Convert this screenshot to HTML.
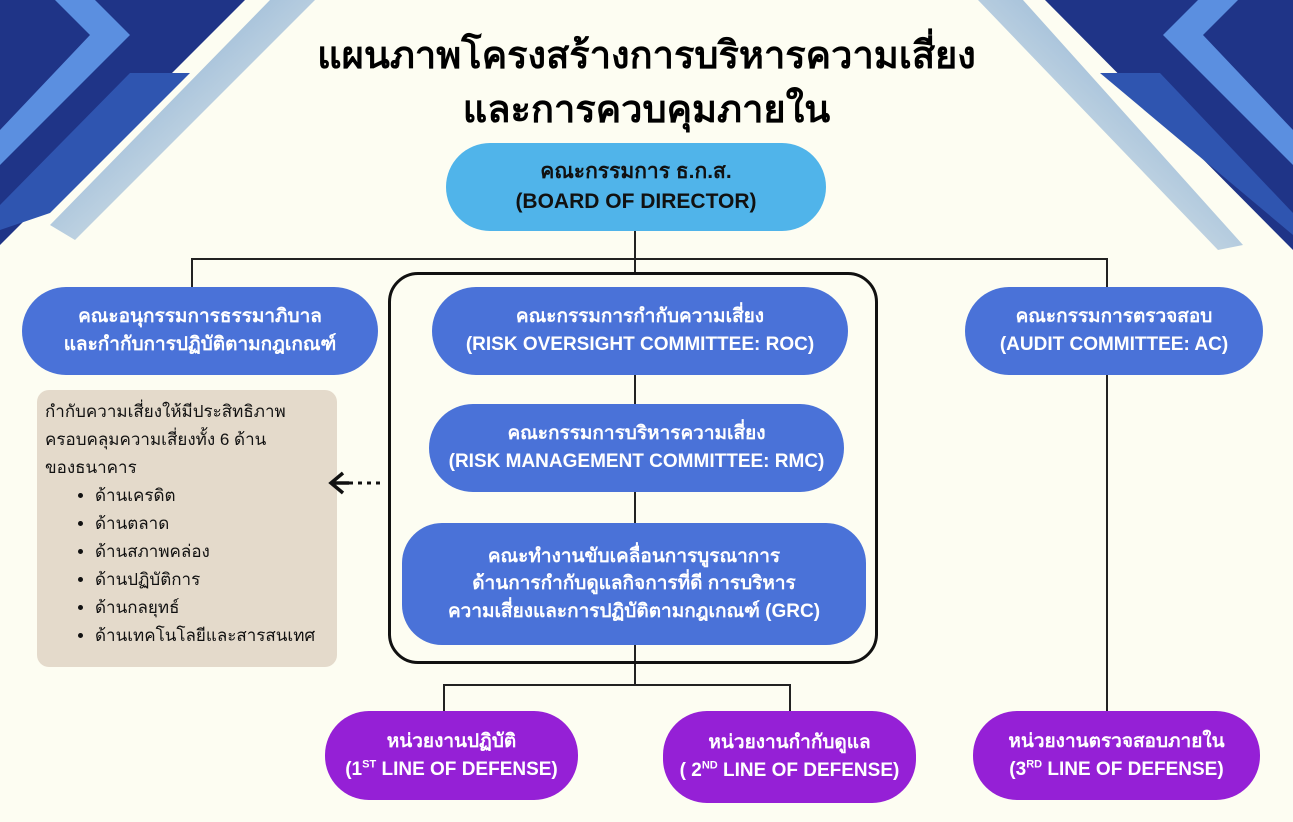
<!DOCTYPE html>
<html><head><meta charset="utf-8"><style>
*{margin:0;padding:0;box-sizing:border-box}
body{width:1293px;height:822px;overflow:hidden;background:#fdfdf2;position:relative;font-family:"Liberation Sans","Noto Sans CJK SC",sans-serif}
.t{position:absolute;left:0;width:1293px;text-align:center;font-weight:bold;font-size:38px;color:#000}
.b{position:absolute;display:flex;align-items:center;justify-content:center;text-align:center;font-weight:bold;border-radius:44px;line-height:1.45}
.blue{background:#4a72d8;color:#fff;font-size:19px}
.pur{background:#9520d6;color:#fff;font-size:19px}
.l{position:absolute;background:#222}
sup{font-size:11px}
</style></head><body>
<svg width="1293" height="822" style="position:absolute;left:0;top:0">
<defs><linearGradient id="f" x1="0" y1="0" x2="1" y2="1"><stop offset="0" stop-color="#6f9ccc"/><stop offset="1" stop-color="#fdfdf2"/></linearGradient>
<linearGradient id="g" x1="1" y1="0" x2="0" y2="1"><stop offset="0" stop-color="#6f9ccc"/><stop offset="1" stop-color="#fdfdf2"/></linearGradient></defs>
<polygon points="270,0,315,0,75,240,50,225" fill="url(#f)"/>
<polygon points="0,0,245,0,0,245" fill="#1f3487"/>
<polygon points="55,0,95,0,130,35,0,165,0,130,90,35" fill="#5b8fe0"/>
<polygon points="130,73,190,73,50,213,0,230,0,205" fill="#2f55b0"/>
<polygon points="978,0,1023,0,1243,245,1218,250" fill="url(#g)"/>
<polygon points="1045,0,1293,0,1293,250" fill="#1f3487"/>
<polygon points="1238,0,1198,0,1163,35,1293,165,1293,130,1203,35" fill="#5b8fe0"/>
<polygon points="1100,73,1160,73,1293,213,1293,235" fill="#2f55b0"/>
</svg>
<div class="t" style="top:24px">แผนภาพโครงสร้างการบริหารความเสี่ยง</div>
<div class="t" style="top:78px">และการควบคุมภายใน</div>
<div class="l" style="left:634px;top:231px;width:2px;height:41px"></div>
<div class="l" style="left:191px;top:258px;width:917px;height:2px"></div>
<div class="l" style="left:191px;top:258px;width:2px;height:30px"></div>
<div class="l" style="left:1106px;top:258px;width:2px;height:453px"></div>
<div class="l" style="left:634px;top:375px;width:2px;height:30px"></div>
<div class="l" style="left:634px;top:492px;width:2px;height:32px"></div>
<div class="l" style="left:634px;top:645px;width:2px;height:41px"></div>
<div class="l" style="left:443px;top:684px;width:348px;height:2px"></div>
<div class="l" style="left:443px;top:684px;width:2px;height:28px"></div>
<div class="l" style="left:789px;top:684px;width:2px;height:28px"></div>
<div style="position:absolute;left:388px;top:272px;width:490px;height:392px;border:3.5px solid #111;border-radius:30px"></div>
<div class="b" style="left:446px;top:143px;width:380px;height:88px;background:#50b4ea;color:#111;font-size:21px"><div>คณะกรรมการ ธ.ก.ส.<br>(BOARD OF DIRECTOR)</div></div>
<div class="b blue" style="left:22px;top:287px;width:356px;height:88px"><div>คณะอนุกรรมการธรรมาภิบาล<br>และกำกับการปฏิบัติตามกฎเกณฑ์</div></div>
<div class="b blue" style="left:432px;top:287px;width:416px;height:88px"><div>คณะกรรมการกำกับความเสี่ยง<br>(RISK OVERSIGHT COMMITTEE: ROC)</div></div>
<div class="b blue" style="left:965px;top:287px;width:298px;height:88px"><div>คณะกรรมการตรวจสอบ<br>(AUDIT COMMITTEE: AC)</div></div>
<div class="b blue" style="left:429px;top:404px;width:415px;height:88px"><div>คณะกรรมการบริหารความเสี่ยง<br>(RISK MANAGEMENT COMMITTEE: RMC)</div></div>
<div class="b blue" style="left:402px;top:523px;width:464px;height:122px;border-radius:40px"><div>คณะทำงานขับเคลื่อนการบูรณาการ<br>ด้านการกำกับดูแลกิจการที่ดี การบริหาร<br>ความเสี่ยงและการปฏิบัติตามกฎเกณฑ์ (GRC)</div></div>
<div class="b pur" style="left:325px;top:711px;width:253px;height:89px"><div>หน่วยงานปฏิบัติ<br>(1<sup>ST</sup> LINE OF DEFENSE)</div></div>
<div class="b pur" style="left:663px;top:711px;width:253px;height:92px"><div>หน่วยงานกำกับดูแล<br>( 2<sup>ND</sup> LINE OF DEFENSE)</div></div>
<div class="b pur" style="left:973px;top:711px;width:287px;height:89px"><div>หน่วยงานตรวจสอบภายใน<br>(3<sup>RD</sup> LINE OF DEFENSE)</div></div>
<div style="position:absolute;left:37px;top:390px;width:300px;height:277px;background:#e4dacb;border-radius:12px;padding:8px 0 0 8px;font-size:17px;line-height:28px;color:#111">
กำกับความเสี่ยงให้มีประสิทธิภาพ<br>ครอบคลุมความเสี่ยงทั้ง 6 ด้าน<br>ของธนาคาร
<ul style="padding-left:50px;list-style:disc">
<li>ด้านเครดิต</li><li>ด้านตลาด</li><li>ด้านสภาพคล่อง</li><li>ด้านปฏิบัติการ</li><li>ด้านกลยุทธ์</li><li>ด้านเทคโนโลยีและสารสนเทศ</li></ul></div>
<svg width="70" height="24" style="position:absolute;left:325px;top:471px">
<line x1="6" y1="12" x2="60" y2="12" stroke="#111" stroke-width="3" stroke-dasharray="4,5"/>
<polyline points="18,2 6,12 18,22" fill="none" stroke="#111" stroke-width="3.5"/>
<line x1="6" y1="12" x2="24" y2="12" stroke="#111" stroke-width="3.5"/>
</svg>
</body></html>
